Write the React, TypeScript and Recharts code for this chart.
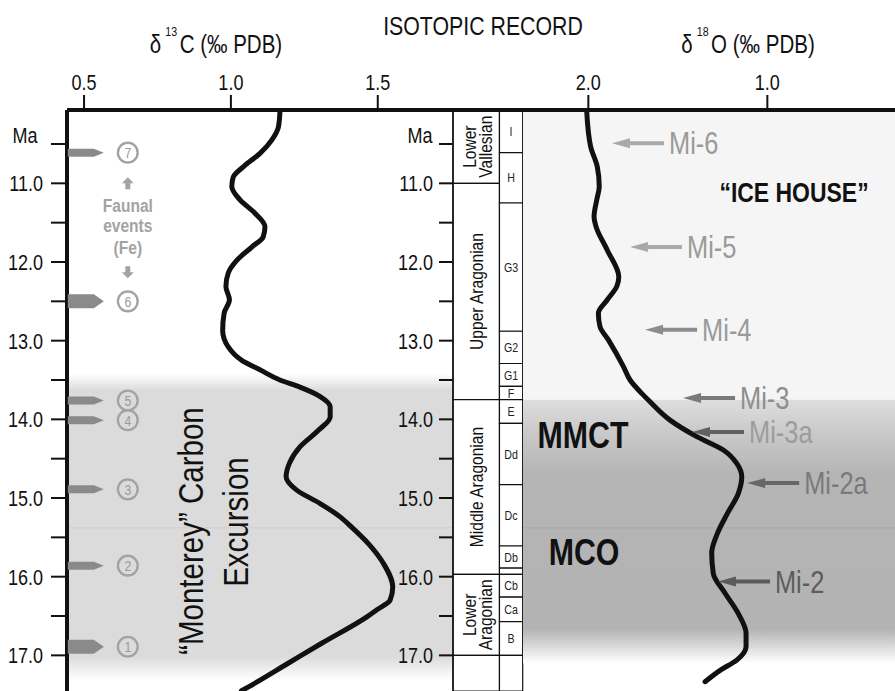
import React from "react";
import {
  ScatterChart,
  Scatter,
  XAxis,
  YAxis,
  ReferenceArea,
  ReferenceLine,
  ReferenceDot,
} from "recharts";

// the figure is set in a condensed Helvetica; Liberation Sans squeezed horizontally stands in for it
const SANS = '"Liberation Sans", Arial, sans-serif';
const SQUEEZE = 0.82;

// age axis (Ma), shared by every panel
const AGE_DOMAIN: [number, number] = [10.068, 17.453];
const AGE_TICKS = [10.5, 11, 11.5, 12, 12.5, 13, 13.5, 14, 14.5, 15, 15.5, 16, 16.5, 17];

// d13C record (left panel)
const C13_DOMAIN: [number, number] = [0.442, 3.261];
const C13_TICKS = [0.5, 1.0, 1.5];
const C13_PANEL_END = 1.756;
const C13_AGE = [
  10.09, 10.28, 10.45, 10.62, 10.79, 10.92, 11.04, 11.21, 11.38, 11.55, 11.68, 11.81, 11.98, 12.14,
  12.31, 12.48, 12.65, 12.87, 13.08, 13.25, 13.37, 13.5, 13.59, 13.71, 13.84, 13.97, 14.14, 14.35,
  14.56, 14.73, 14.9, 15.07, 15.24, 15.37, 15.58, 15.83, 16.13, 16.3, 16.42, 16.51, 16.84, 17.1,
  17.4, 17.45,
];
const C13_VALUE = [
  1.167, 1.162, 1.139, 1.099, 1.042, 1.008, 1.003, 1.031, 1.082, 1.116, 1.11, 1.071, 1.02, 0.991,
  0.983, 0.995, 0.977, 0.972, 0.991, 1.037, 1.099, 1.167, 1.235, 1.304, 1.338, 1.338, 1.298, 1.235,
  1.199, 1.188, 1.224, 1.304, 1.372, 1.411, 1.468, 1.519, 1.551, 1.542, 1.497, 1.463, 1.312, 1.195,
  1.06, 1.036,
];

// faunal events (Fe)
const FE_IDS = [7, 6, 5, 4, 3, 2, 1];
const FE_AGES = [10.61, 12.5, 13.76, 14.01, 14.89, 15.86, 16.89];
const FE_MAJOR = [false, true, false, false, false, false, true];
const FE_X = 0.649;

// d18O record (right panel)
const O18_DOMAIN: [number, number] = [0.287, 2.365];
const O18_TICKS = [2.0, 1.0];
const O18_AGE = [
  10.09, 10.535, 10.79, 11.04, 11.21, 11.425, 11.55, 11.85, 12.19, 12.31, 12.48, 12.65, 12.82, 12.99,
  13.33, 13.5, 13.67, 13.755, 14.01, 14.22, 14.39, 14.56, 14.73, 14.94, 15.195, 15.45, 15.7, 15.96,
  16.21, 16.47, 16.72, 16.89, 17.06, 17.19, 17.335,
];
const O18_VALUE = [
  2.009, 1.987, 1.95, 1.939, 1.953, 1.968, 1.957, 1.894, 1.83, 1.841, 1.894, 1.944, 1.935, 1.888,
  1.804, 1.767, 1.702, 1.665, 1.544, 1.394, 1.246, 1.171, 1.143, 1.162, 1.223, 1.279, 1.311, 1.302,
  1.236, 1.162, 1.119, 1.119, 1.171, 1.264, 1.348,
];

// Mi glaciation events
const MI_LABELS = ["Mi-6", "Mi-5", "Mi-4", "Mi-3", "Mi-3a", "Mi-2a", "Mi-2"];
const MI_AGES = [10.49, 11.81, 12.86, 13.73, 14.16, 14.81, 16.06];
const MI_TIP = [1.868, 1.767, 1.683, 1.471, 1.421, 1.113, 1.276];
const MI_ARROW_COLORS = ["#a9a9a9", "#a9a9a9", "#8c8c8c", "#7a7a7a", "#616161", "#676767", "#5a5a5a"];
const MI_TEXT_COLORS = ["#9a9a9a", "#9a9a9a", "#9a9a9a", "#8e8e8e", "#9c9c9c", "#7a7a7a", "#5c5c5c"];

// stratigraphy column
const STAGE_NAMES = ["Lower\nVallesian", "Upper Aragonian", "Middle Aragonian", "Lower\nAragonian", ""];
const STAGE_BOUNDS = [10.068, 11.0, 13.75, 15.97, 17.0, 17.453];
const ZONE_NAMES = ["I", "H", "G3", "G2", "G1", "F", "E", "Dd", "Dc", "Db", "", "Cb", "Ca", "B", ""];
const ZONE_BOUNDS = [
  10.068, 10.61, 11.25, 12.88, 13.29, 13.58, 13.75, 14.05, 14.83, 15.61, 15.89, 15.97, 16.26, 16.57,
  17.0, 17.453,
];

const c13Data = C13_AGE.map((ma, i) => ({ v: C13_VALUE[i], ma }));
const o18Data = O18_AGE.map((ma, i) => ({ v: O18_VALUE[i], ma }));
const feData = FE_AGES.map((ma, i) => ({ v: FE_X, ma, id: FE_IDS[i], major: FE_MAJOR[i] }));
const miData = MI_AGES.map((ma, i) => ({ v: MI_TIP[i], ma, label: MI_LABELS[i], i }));

const H = 691;
const TOP = 110;
const INK = "#111";
const MARGIN = { top: 0, right: 0, bottom: 0, left: 0 };

// condensed text: positioned at (x, y), optionally rotated, then squeezed along its baseline
function T({ x, y, rotate = 0, children, ...rest }: any) {
  const rot = rotate ? ` rotate(${rotate})` : "";
  return (
    <text transform={`translate(${x},${y})${rot} scale(${SQUEEZE},1)`} fontFamily={SANS} {...rest}>
      {children}
    </text>
  );
}

const AgeTick = (props: any) => {
  const { x, y, payload, textAnchor } = props;
  if (!Number.isInteger(payload.value)) return <g />;
  return (
    <T x={x} y={y} dy="0.36em" textAnchor={textAnchor} fontSize={22} fill={INK}>
      {payload.value.toFixed(1)}
    </T>
  );
};

const IsoTick = (props: any) => {
  const { x, y, payload } = props;
  return (
    <T x={x} y={y} textAnchor="middle" fontSize={22} fill={INK}>
      {payload.value.toFixed(1)}
    </T>
  );
};

const NoDot = () => <g />;

function FaunalFlag(props: any) {
  const { cx, cy, payload } = props;
  const h = payload.major ? 14 : 8;
  const x0 = cx - 60;
  const x1 = cx - 34;
  const x2 = cx - 24;
  return (
    <g>
      <path
        d={`M${x0},${cy - h / 2}L${x1},${cy - h / 2}L${x2},${cy}L${x1},${cy + h / 2}L${x0},${cy + h / 2}Z`}
        fill="#8a8a8a"
      />
      <circle cx={cx} cy={cy} r={9.8} fill="none" stroke="#a3a3a3" strokeWidth={2.5} />
    </g>
  );
}

function FaunalNumber(props: any) {
  const { cx, cy, payload } = props;
  const bg = payload.ma > 13.6 ? "#dbdbdb" : "#ffffff";
  return (
    <g>
      <circle cx={cx} cy={cy} r={8.5} fill={bg} />
      <T x={cx} y={cy} dy="0.36em" textAnchor="middle" fontSize={15} fill="#9a9a9a">
        {payload.id}
      </T>
    </g>
  );
}

function FaunalNote(props: any) {
  const { cx, cy } = props;
  const c = "#a3a3a3";
  const up = cy - 43;
  const dn = cy + 46;
  return (
    <g fill={c}>
      <path d={`M${cx - 6},${up}L${cx},${up - 6}L${cx + 6},${up}L${cx + 2.5},${up}L${cx + 2.5},${up + 6}L${cx - 2.5},${up + 6}L${cx - 2.5},${up}Z`} />
      <T x={cx} y={cy - 21} dy="0.36em" textAnchor="middle" fontWeight="bold" fontSize={19}>Faunal</T>
      <T x={cx} y={cy} dy="0.3em" textAnchor="middle" fontWeight="bold" fontSize={19}>events</T>
      <T x={cx} y={cy + 21} dy="0.36em" textAnchor="middle" fontWeight="bold" fontSize={19}>(Fe)</T>
      <path d={`M${cx - 6},${dn}L${cx},${dn + 6}L${cx + 6},${dn}L${cx + 2.5},${dn}L${cx + 2.5},${dn - 6}L${cx - 2.5},${dn - 6}L${cx - 2.5},${dn}Z`} />
    </g>
  );
}

function MontereyNote(props: any) {
  const { cx, cy } = props;
  return (
    <g fill={INK}>
      <T x={cx - 22} y={cy + 4} rotate={-90} textAnchor="middle" fontSize={36}>“Monterey” Carbon</T>
      <T x={cx + 23} y={cy - 5} rotate={-90} textAnchor="middle" fontSize={36}>Excursion</T>
    </g>
  );
}

function MiArrow(props: any) {
  const { cx, cy, payload } = props;
  const c = MI_ARROW_COLORS[payload.i];
  return (
    <g>
      <line x1={cx + 14} y1={cy} x2={cx + 52} y2={cy} stroke={c} strokeWidth={4} />
      <path d={`M${cx},${cy}L${cx + 18},${cy - 5}L${cx + 18},${cy + 5}Z`} fill={c} />
      <T x={cx + 57} y={cy} dy="0.36em" fontSize={31} fill={MI_TEXT_COLORS[payload.i]}>
        {payload.label}
      </T>
    </g>
  );
}

const boldText = (value: string, size: number) => (props: any) => (
  <T x={props.cx} y={props.cy} dy="0.36em" textAnchor="middle" fontWeight="bold" fontSize={size} fill={INK}>
    {value}
  </T>
);

const stageLabel = (name: string) => (props: any) => {
  const { x, y, width, height } = props.viewBox;
  const cx = x + width / 2;
  const cy = y + height / 2;
  const lines = name.split("\n");
  return (
    <g fill={INK}>
      {lines.map((line, k) => (
        <T key={k} x={cx + (lines.length === 1 ? 7 : k * 16)} y={cy} rotate={-90} textAnchor="middle" fontSize={19}>
          {line}
        </T>
      ))}
    </g>
  );
};

const zoneLabel = (name: string) => (props: any) => {
  const { x, y, width, height } = props.viewBox;
  return (
    <T x={x + width / 2} y={y + height / 2} dy="0.36em" textAnchor="middle" fontSize={13} fill="#222">
      {name}
    </T>
  );
};

const LeftTitles = () => (
  <g fill={INK}>
    <T x={216} y={53} textAnchor="middle" fontSize={25}>
      δ
      <tspan dx={5} dy={-17} fontSize={13}>
        13
      </tspan>
      <tspan dx={3} dy={17}>C (‰ PDB)</tspan>
    </T>
    <T x={483} y={35} textAnchor="middle" fontSize={26}>
      ISOTOPIC RECORD
    </T>
  </g>
);

const RightTitle = () => (
  <T x={225} y={53} textAnchor="middle" fontSize={25} fill={INK}>
    δ
    <tspan dx={5} dy={-17} fontSize={13}>
      18
    </tspan>
    <tspan dx={3} dy={17}>O (‰ PDB)</tspan>
  </T>
);

const maLabel = (x: number) => () => (
  <T x={x} y={135} dy="0.36em" textAnchor="middle" fontSize={22} fill={INK}>
    Ma
  </T>
);

export default function App() {
  return (
    <div style={{ position: "absolute", left: 0, top: 0, width: 895, height: H, background: "#fff", overflow: "hidden" }}>
      {/* left panel: d13C */}
      <div style={{ position: "absolute", left: 0, top: 0 }}>
        <ScatterChart width={895} height={H} margin={MARGIN}>
          <defs>
            <linearGradient id="leftBand" x1="0" y1="0" x2="0" y2="1">
              <stop offset="0" stopColor="#ffffff" />
              <stop offset="0.055" stopColor="#dbdbdb" />
              <stop offset="0.92" stopColor="#dbdbdb" />
              <stop offset="1" stopColor="#ffffff" />
            </linearGradient>
          </defs>
          <XAxis
            type="number"
            dataKey="v"
            orientation="top"
            domain={C13_DOMAIN}
            ticks={C13_TICKS}
            interval={0}
            allowDataOverflow
            height={TOP}
            tickSize={15}
            tickMargin={5}
            tick={IsoTick}
            axisLine={{ stroke: INK, strokeWidth: 4 }}
            tickLine={{ stroke: INK, strokeWidth: 2 }}
            label={<LeftTitles />}
          />
          <YAxis
            type="number"
            dataKey="ma"
            domain={AGE_DOMAIN}
            reversed
            ticks={AGE_TICKS}
            interval={0}
            allowDataOverflow
            width={67}
            tickSize={16}
            tickMargin={8}
            tick={AgeTick}
            axisLine={{ stroke: INK, strokeWidth: 4 }}
            tickLine={{ stroke: INK, strokeWidth: 2 }}
            label={maLabel(25)}
          />
          <ReferenceArea x2={C13_PANEL_END} y1={13.42} y2={17.32} fill="url(#leftBand)" fillOpacity={1} stroke="none" />
          <ReferenceLine
            segment={[
              { x: C13_DOMAIN[0], y: 15.38 },
              { x: C13_PANEL_END, y: 15.38 },
            ]}
            stroke="#cdcdcd"
            strokeWidth={1}
          />
          <ReferenceDot x={0.98} y={15.369} r={0} shape={MontereyNote} />
          <ReferenceDot x={FE_X} y={11.545} r={0} shape={FaunalNote} />
          <Scatter data={feData} shape={FaunalFlag} isAnimationActive={false} />
          <Scatter data={feData} shape={FaunalNumber} isAnimationActive={false} />
          <Scatter
            data={c13Data}
            shape={NoDot}
            line={{ stroke: INK, strokeWidth: 5, strokeLinecap: "round", strokeLinejoin: "round" }}
            lineType="joint"
            lineJointType="monotoneY"
            isAnimationActive={false}
          />
        </ScatterChart>
      </div>

      {/* middle: age axis and stratigraphic column */}
      <div style={{ position: "absolute", left: 395, top: 0 }}>
        <ScatterChart width={130} height={H} margin={MARGIN}>
          <XAxis
            type="number"
            dataKey="v"
            orientation="top"
            domain={[0, 3.1]}
            allowDataOverflow
            height={TOP}
            tick={false}
            tickLine={false}
            axisLine={{ stroke: INK, strokeWidth: 4 }}
          />
          <YAxis
            type="number"
            dataKey="ma"
            domain={AGE_DOMAIN}
            reversed
            ticks={AGE_TICKS}
            interval={0}
            allowDataOverflow
            width={58}
            tickSize={14}
            tickMargin={6}
            tick={AgeTick}
            axisLine={{ stroke: INK, strokeWidth: 1.5 }}
            tickLine={{ stroke: INK, strokeWidth: 2 }}
            label={maLabel(25)}
          />
          {STAGE_NAMES.map((name, i) => (
            <ReferenceArea
              key={"s" + i}
              x1={0}
              x2={2}
              y1={STAGE_BOUNDS[i]}
              y2={STAGE_BOUNDS[i + 1]}
              fill="#fff"
              fillOpacity={1}
              stroke={INK}
              strokeWidth={1.2}
              label={stageLabel(name)}
            />
          ))}
          {ZONE_NAMES.map((name, i) => (
            <ReferenceArea
              key={"z" + i}
              x1={2}
              x2={3}
              y1={ZONE_BOUNDS[i]}
              y2={ZONE_BOUNDS[i + 1]}
              fill="#fff"
              fillOpacity={1}
              stroke={INK}
              strokeWidth={1.2}
              label={zoneLabel(name)}
            />
          ))}
        </ScatterChart>
      </div>

      {/* right panel: d18O */}
      <div style={{ position: "absolute", left: 523, top: 0 }}>
        <ScatterChart width={372} height={H} margin={MARGIN}>
          <defs>
            <linearGradient id="rightBand" x1="0" y1="0" x2="0" y2="1">
              <stop offset="0" stopColor="#dedede" />
              <stop offset="0.12" stopColor="#cacaca" />
              <stop offset="0.28" stopColor="#b5b5b5" />
              <stop offset="0.87" stopColor="#b3b3b3" />
              <stop offset="1" stopColor="#ffffff" />
            </linearGradient>
          </defs>
          <XAxis
            type="number"
            dataKey="v"
            orientation="top"
            domain={O18_DOMAIN}
            reversed
            ticks={O18_TICKS}
            interval={0}
            allowDataOverflow
            height={TOP}
            tickSize={15}
            tickMargin={5}
            tick={IsoTick}
            axisLine={{ stroke: INK, strokeWidth: 4 }}
            tickLine={{ stroke: INK, strokeWidth: 2 }}
            label={<RightTitle />}
          />
          <YAxis type="number" dataKey="ma" domain={AGE_DOMAIN} reversed allowDataOverflow hide />
          <ReferenceArea y1={AGE_DOMAIN[0]} y2={13.75} fill="#f5f5f5" fillOpacity={1} stroke="none" />
          <ReferenceArea y1={13.75} y2={17.1} fill="url(#rightBand)" fillOpacity={1} stroke="none" />
          <ReferenceLine y={15.38} stroke="#a9a9a9" strokeWidth={1} />
          <ReferenceDot x={0.851} y={11.115} r={0} shape={boldText("“ICE HOUSE”", 28)} />
          <ReferenceDot x={2.03} y={14.2} r={0} shape={boldText("MMCT", 37)} />
          <ReferenceDot x={2.024} y={15.683} r={0} shape={boldText("MCO", 37)} />
          <Scatter
            data={o18Data}
            shape={NoDot}
            line={{ stroke: INK, strokeWidth: 5, strokeLinecap: "round", strokeLinejoin: "round" }}
            lineType="joint"
            lineJointType="monotoneY"
            isAnimationActive={false}
          />
          <Scatter data={miData} shape={MiArrow} isAnimationActive={false} />
        </ScatterChart>
      </div>
    </div>
  );
}
